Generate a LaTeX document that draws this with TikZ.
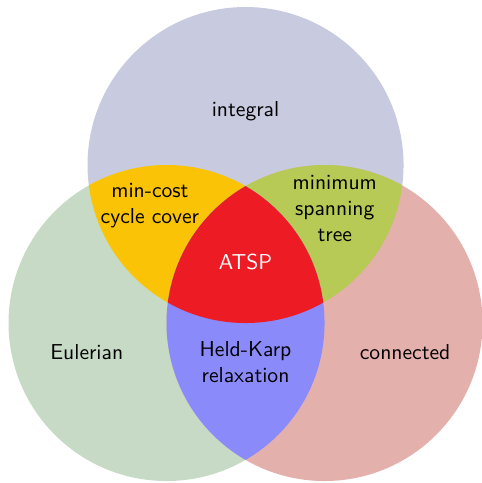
\documentclass[tikz,border=0pt]{standalone}
\definecolor{ctop}{RGB}{200,202,224}
\definecolor{cleft}{RGB}{198,218,198}
\definecolor{cright}{RGB}{227,176,172}
\definecolor{ctl}{RGB}{250,195,5}
\definecolor{ctr}{RGB}{183,202,86}
\definecolor{clr}{RGB}{138,138,250}
\definecolor{call}{RGB}{237,27,36}
\begin{document}
\begin{tikzpicture}[x=1.285cm,y=1.285cm,
  lbl/.style={font=\sffamily, align=center, inner sep=0pt}]
\useasboundingbox (-3.108,-2.025) rectangle (2.981,4.089);
\def\ctop{(0,2) circle (2)}
\def\cleft{(-1,0) circle (2)}
\def\cright{(1,0) circle (2)}
\fill[ctop] \ctop;
\fill[cleft] \cleft;
\fill[cright] \cright;
\begin{scope}
  \clip \ctop;
  \fill[ctl] \cleft;
\end{scope}
\begin{scope}
  \clip \ctop;
  \fill[ctr] \cright;
\end{scope}
\begin{scope}
  \clip \cleft;
  \fill[clr] \cright;
\end{scope}
\begin{scope}
  \clip \ctop;
  \clip \cleft;
  \fill[call] \cright;
\end{scope}
\node[lbl] (integral) at (0,2.68) {integral};
\node[lbl] (mincost) at (-1.21,1.48) {min-cost\\cycle cover};
\node[lbl] (mst) at (1.13,1.45) {minimum\\spanning\\tree};
\node[lbl, text=white] (atsp) at (0,0.77) {ATSP};
\node[lbl] (euler) at (-2.01,-0.37) {Eulerian};
\node[lbl] (hk) at (0,-0.49) {Held-Karp\\relaxation};
\node[lbl] (conn) at (2.02,-0.37) {connected};
\end{tikzpicture}
\end{document}
